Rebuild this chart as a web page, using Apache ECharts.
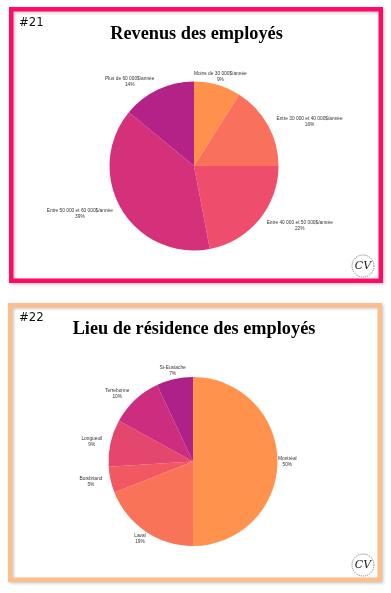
<!DOCTYPE html>
<html>
<head>
<meta charset="utf-8">
<script src="https://cdn.jsdelivr.net/npm/echarts@6/dist/echarts.min.js"></script>
<style>
html,body{margin:0;padding:0;background:#fff;}
#chart{width:391px;height:593px;}
</style>
</head>
<body>
<div id="chart"></div>
<script>
// ---- Data ----
const incomeTitle = 'Revenus des employés';
const incomeCategories = [
  'Moins de 30 000$/année',
  'Entre 30 000 et 40 000$/année',
  'Entre 40 000 et 50 000$/année',
  'Entre 50 000 et 60 000$/année',
  'Plus de 60 000$/année'
];
const incomeValues = [9, 16, 22, 39, 14];

const residenceTitle = 'Lieu de résidence des employés';
const residenceCategories = ['Montréal', 'Laval', 'Boisbriand', 'Longueuil', 'Terrebonne', 'St-Eustache'];
const residenceValues = [50, 19, 5, 9, 10, 7];

// ---- Styles ----
const incomeColors = ['#FF914D', '#F9715D', '#EE4E6B', '#D5317A', '#B42288'];
const residenceColors = ['#FF924C', '#F97359', '#F25862', '#E4466D', '#CC2D7E', '#AD2189'];
const incomeLabelShift = [-26, 1, 1, 1, 0];
const residenceLabelShift = [-8, -5, 0, 0, 0, -13];

function buildPie(names, values, colors, shifts, center) {
  return {
    type: 'pie',
    center: center,
    radius: 84.5,
    startAngle: 90,
    clockwise: true,
    z: 10,
    silent: true,
    animation: false,
    avoidLabelOverlap: false,
    itemStyle: { borderWidth: 0 },
    label: {
      show: true,
      position: 'outside',
      distanceToLabelLine: 0,
      formatter: '{n|{b}}\n{p|{c}%}',
      color: '#333',
      fontFamily: 'Liberation Sans, Arial, sans-serif',
      fontSize: 4.8,
      rich: {
        n: { fontSize: 4.8, lineHeight: 6, align: 'center', color: '#333', fontFamily: 'Liberation Sans, Arial, sans-serif' },
        p: { fontSize: 4.8, lineHeight: 6, align: 'center', color: '#333', fontFamily: 'Liberation Sans, Arial, sans-serif' }
      }
    },
    labelLine: { show: false, length: 8.5, length2: 0 },
    emphasis: { disabled: true },
    data: names.map((n, i) => ({
      name: n,
      value: values[i],
      itemStyle: { color: colors[i] },
      labelLine: { show: false, length: 8.5, length2: shifts[i] }
    }))
  };
}

function panel(x, y, w, h, color) {
  const lw = 4.5;
  return {
    type: 'rect',
    z: 0,
    shape: { x: x + lw / 2, y: y + lw / 2, width: w - lw, height: h - lw },
    style: {
      fill: '#fff', stroke: color, lineWidth: lw,
      shadowColor: 'rgba(0,0,0,0.2)', shadowBlur: 3, shadowOffsetX: 1.5, shadowOffsetY: 1.5
    }
  };
}

function logo(cx, cy) {
  return [
    { type: 'circle', z: 5, shape: { cx: cx, cy: cy, r: 11 },
      style: { fill: '#fff', stroke: '#555', lineWidth: 0.8, lineDash: [1, 1] } },
    { type: 'text', z: 6, x: cx, y: cy,
      style: { text: 'CV', fill: '#222', font: 'italic 11px "DejaVu Serif", serif', align: 'center', verticalAlign: 'middle' } }
  ];
}

const chart = echarts.init(document.getElementById('chart'), null, { renderer: 'canvas' });
chart.setOption({
  backgroundColor: '#fff',
  animation: false,
  graphic: [
    panel(9, 7, 374, 276, '#FF0A66'),
    panel(8, 303, 374, 279, '#FBBF8B'),
    { type: 'text', z: 5, x: 19, y: 23,
      style: { text: '#21', fill: '#111', font: '13px "Liberation Sans Narrow", "DejaVu Sans Condensed", sans-serif', verticalAlign: 'middle' } },
    { type: 'text', z: 5, x: 19, y: 318,
      style: { text: '#22', fill: '#111', font: '13px "Liberation Sans Narrow", "DejaVu Sans Condensed", sans-serif', verticalAlign: 'middle' } },
    { type: 'text', z: 5, x: 196.5, y: 34,
      style: { text: incomeTitle, fill: '#000', font: '900 18.3px "Liberation Serif", "Times New Roman", serif', align: 'center', verticalAlign: 'middle' } },
    { type: 'text', z: 5, x: 194, y: 329,
      style: { text: residenceTitle, fill: '#000', font: '900 18.3px "Liberation Serif", "Times New Roman", serif', align: 'center', verticalAlign: 'middle' } },
    ...logo(363, 266),
    ...logo(363, 565)
  ],
  series: [
    buildPie(incomeCategories, incomeValues, incomeColors, incomeLabelShift, [194, 166]),
    buildPie(residenceCategories, residenceValues, residenceColors, residenceLabelShift, [193, 461.5])
  ]
});
</script>
</body>
</html>
